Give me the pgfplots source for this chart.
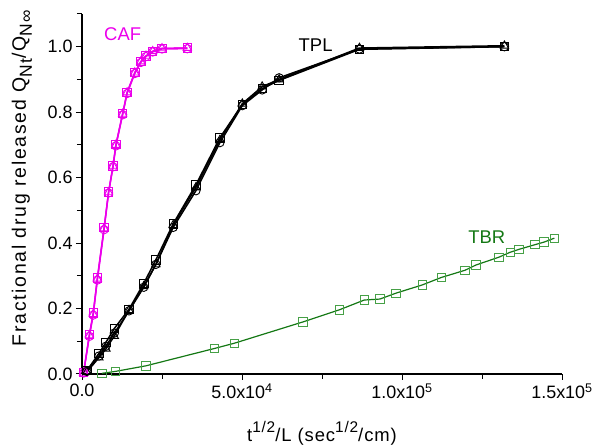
\documentclass[border=0pt]{standalone}
\usepackage{pgfplots}
\pgfplotsset{compat=1.18}
\usepackage{fontspec}
\setmainfont{Liberation Sans}
\definecolor{caf}{RGB}{235,0,235}
\definecolor{tbrline}{RGB}{20,120,20}
\definecolor{tbrmark}{RGB}{70,160,70}
\newcommand{\mysup}[1]{\raisebox{0.5em}{\fontsize{15.5}{15}\selectfont #1}}
\newcommand{\mysub}[1]{\raisebox{-0.3em}{\fontsize{17.5}{16}\selectfont #1}}
\begin{document}
\begin{tikzpicture}[x=1bp,y=1bp]
\begin{axis}[
  scale only axis, width=480bp, height=360bp,
  at={(0,0)}, anchor=south west,
  xmin=0, xmax=150000, ymin=0, ymax=1.1,
  axis x line=bottom, axis y line=left,
  axis line style={-, line width=1.1pt},
  xtick={0,50000,100000,150000},
  xticklabels={0.0, 5.0x10\textsuperscript{4}, 1.0x10\textsuperscript{5}, 1.5x10\textsuperscript{5}},
  minor xtick={25000,75000,125000},
  ytick={0,0.2,0.4,0.6,0.8,1.0},
  yticklabels={0.0,0.2,0.4,0.6,0.8,1.0},
  minor ytick={0.1,0.3,0.5,0.7,0.9,1.1},
  tick align=outside,
  major tick length=6bp, minor tick length=5bp,
  tick style={line width=1pt, black},
  scaled x ticks=false,
  xticklabel style={font=\fontsize{18}{20}\selectfont},
  yticklabel style={font=\fontsize{18}{20}\selectfont},
  xlabel={t\mysup{1/2}/L (sec\mysup{1/2}/cm)},
  ylabel={Fractional drug released Q\mysub{Nt}/Q\mysub{N∞}},
  every axis x label/.style={at={(axis description cs:0.5,0)}, anchor=base, yshift=-68bp,
     font=\fontsize{18.5}{20}\selectfont\addfontfeature{LetterSpace=5}},
  every axis y label/.style={at={(axis description cs:0,0.5)}, xshift=-56bp, yshift=16bp, rotate=90, anchor=base,
     font=\fontsize{19.5}{20}\selectfont\addfontfeature{LetterSpace=9}},
  clip=false,
]
% CAF
\addplot[caf, line width=1.4bp, mark=square, mark size=4.2bp, mark options={line width=0.9bp}] coordinates {
(500,0.005)(2300,0.121)(3500,0.186)(4800,0.294)(6900,0.447)(8300,0.556)(9700,0.636)(10600,0.701)(12700,0.796)(14100,0.861)(16500,0.921)(18400,0.955)(20000,0.972)(22100,0.986)(25000,0.995)(32900,0.996)};
\addplot[caf, line width=1.4bp, mark=o, mark size=4.2bp, mark options={line width=0.9bp}] coordinates {
(500,0.003)(2300,0.115)(3500,0.180)(4800,0.287)(6900,0.441)(8300,0.553)(9700,0.633)(10600,0.697)(12700,0.792)(14100,0.857)(16500,0.918)(18400,0.952)(20000,0.970)(22100,0.984)(25000,0.993)(32900,0.994)};
\addplot[caf, line width=1.4bp, mark=triangle, mark size=4.8bp, mark options={line width=0.9bp}] coordinates {
(500,0.004)(2300,0.118)(3500,0.183)(4800,0.291)(6900,0.445)(8300,0.555)(9700,0.636)(10600,0.700)(12700,0.795)(14100,0.860)(16500,0.921)(18400,0.955)(20000,0.972)(22100,0.986)(25000,0.995)(32900,0.996)};
% TPL
\addplot[black, line width=1.5bp, mark=square, mark size=4.2bp, mark options={line width=0.9bp}] coordinates {
(1500,0.010)(5300,0.063)(7500,0.097)(10100,0.139)(14700,0.198)(19300,0.277)(23100,0.349)(28500,0.459)(35600,0.578)(43100,0.722)(50100,0.823)(56300,0.872)(61600,0.897)(86700,0.992)(132000,1.000)};
\addplot[black, line width=1.5bp, mark=o, mark size=4.2bp, mark options={line width=0.9bp}] coordinates {
(1500,0.008)(5300,0.055)(7500,0.085)(10100,0.125)(14700,0.193)(19300,0.265)(23100,0.335)(28500,0.448)(35600,0.560)(43100,0.707)(50100,0.820)(56300,0.868)(61600,0.905)(86700,0.993)(132000,1.000)};
\addplot[black, line width=1.5bp, mark=triangle, mark size=4.8bp, mark options={line width=0.9bp}] coordinates {
(1500,0.006)(5300,0.050)(7500,0.077)(10100,0.116)(14700,0.195)(19300,0.268)(23100,0.335)(28500,0.455)(35600,0.570)(43100,0.715)(50100,0.826)(56300,0.878)(61600,0.900)(86700,0.996)(132000,1.003)};
% TBR
\addplot[tbrline, line width=1.2bp, mark=square, mark size=4.2bp, mark options={draw=tbrmark, line width=0.9bp}] coordinates {
(6200,0.002)(10500,0.008)(20000,0.025)(41400,0.078)(47600,0.094)(69000,0.159)(80400,0.196)(88200,0.226)(93100,0.229)(98100,0.247)(106300,0.272)(112300,0.295)(119700,0.317)(123100,0.333)(130300,0.357)(133800,0.372)(136600,0.381)(141500,0.395)(144400,0.403)(147600,0.415)};
\node[caf, font=\fontsize{18.5}{20}\selectfont] at (axis cs:12700,1.038) {CAF};
\node[black, font=\fontsize{18.5}{20}\selectfont] at (axis cs:73000,1.005) {TPL};
\node[tbrline, font=\fontsize{18.5}{20}\selectfont] at (axis cs:126500,0.419) {TBR};
\end{axis}
\pgfresetboundingbox
\path[use as bounding box] (-82,-73) rectangle (512,374);
\end{tikzpicture}
\end{document}
